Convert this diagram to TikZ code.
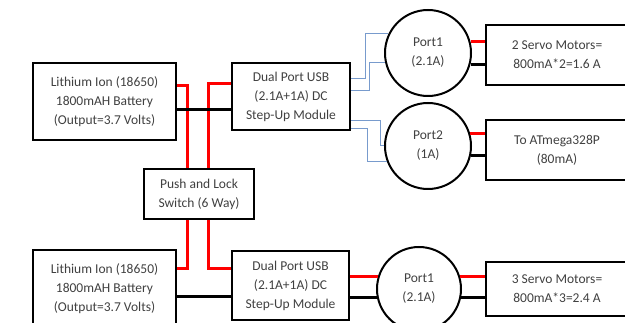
\documentclass[tikz,border=0pt]{standalone}
\usepackage{fontspec}
\setmainfont{Carlito}
\usepackage{xcolor}
\usepackage{tikz}

\definecolor{wireblue}{RGB}{120,155,205}

\begin{document}
\begin{tikzpicture}[x=1pt, y=-1pt,
  box/.style={rectangle, draw=black, line width=2pt, inner sep=0pt,
              align=center, text=black!75,
              font=\fontsize{13.5}{19}\selectfont},
  port/.style={circle, draw=black, line width=2pt, inner sep=0pt,
               minimum size=86pt, align=center, text=black!75,
               font=\fontsize{13.5}{19}\selectfont},
  rd/.style={draw=red, line width=3pt},
  bk/.style={draw=black, line width=3pt},
  bl/.style={draw=wireblue, line width=1pt}
]
\useasboundingbox (0,0) rectangle (625,323);
%% Batteries
\node[box, minimum width=143, minimum height=77] (bat1) at (104.5,101.5)
  {Lithium Ion (18650)\\1800mAH Battery\\(Output=3.7 Volts)};
\node[box, minimum width=143, minimum height=77] (bat2) at (104.5,288.5)
  {Lithium Ion (18650)\\1800mAH Battery\\(Output=3.7 Volts)};
%% Step-up modules
\node[box, minimum width=118, minimum height=67] (dc1) at (291,96.5)
  {Dual Port USB\\(2.1A+1A) DC\\Step-Up Module};
\node[box, minimum width=117, minimum height=69] (dc2) at (290.5,285.5)
  {Dual Port USB\\(2.1A+1A) DC\\Step-Up Module};
%% Switch
\node[box, minimum width=110, minimum height=50] (sw) at (199,194)
  {Push and Lock\\Switch (6 Way)};
%% Ports
\node[port] (p1a) at (428,53)  {Port1\\(2.1A)};
\node[port] (p2)  at (428,146) {Port2\\(1A)};
\node[port, minimum size=84pt] (p1b) at (419,289) {Port1\\(2.1A)};
%% Loads
\node[box, minimum width=142, minimum height=60] (s1) at (557,55)
  {2 Servo Motors=\\800mA*2=1.6 A};
\node[box, minimum width=142, minimum height=60] (at) at (557,150)
  {To ATmega328P\\(80mA)};
\node[box, minimum width=142, minimum height=54] (s2) at (557,289)
  {3 Servo Motors=\\800mA*3=2.4 A};
%% Battery/switch wiring
\draw[rd] ([yshift=15.5pt]bat1.east) -| ([xshift=-12pt]sw.north);
\draw[rd] ([yshift=12.5pt]dc1.west) -| ([xshift=9pt]sw.north);
\draw[rd] ([xshift=-12pt]sw.south) |- ([yshift=19.5pt]bat2.east);
\draw[rd] ([xshift=9pt]sw.south) |- ([yshift=16.5pt]dc2.west);
\draw[bk] ([yshift=-8.5pt]bat1.east) coordinate (g1) -- (g1 -| dc1.west);
\draw[bk] ([yshift=-8.5pt]bat2.east) coordinate (g2) -- (g2 -| dc2.west);
%% USB outputs
\draw[bl] ([yshift=17.5pt]dc1.east) -- ++(14,0) |- (p1a.154);
\draw[bl] ([yshift=5.5pt]dc1.east) -- ++(18,0) |- (p1a.193);
\draw[bl] ([yshift=-24.5pt]dc1.east) -- ++(29,0) |- (p2.180);
\draw[bl] ([yshift=-32.5pt]dc1.east) -- ++(16,0) |- (p2.200);
\draw[rd] (p1b.163) -- (p1b.163 -| dc2.east);
\draw[bk] (p1b.192) -- (p1b.192 -| dc2.east);
%% Ports to loads
\draw[rd] (p1a.15) -- (p1a.15 -| s1.west);
\draw[bk] (p1a.-15) -- (p1a.-15 -| s1.west);
\draw[rd] (p2.16) -- (p2.16 -| at.west);
\draw[bk] (p2.-13) -- (p2.-13 -| at.west);
\draw[rd] (p1b.17) -- (p1b.17 -| s2.west);
\draw[bk] (p1b.-12) -- (p1b.-12 -| s2.west);
\end{tikzpicture}
\end{document}
